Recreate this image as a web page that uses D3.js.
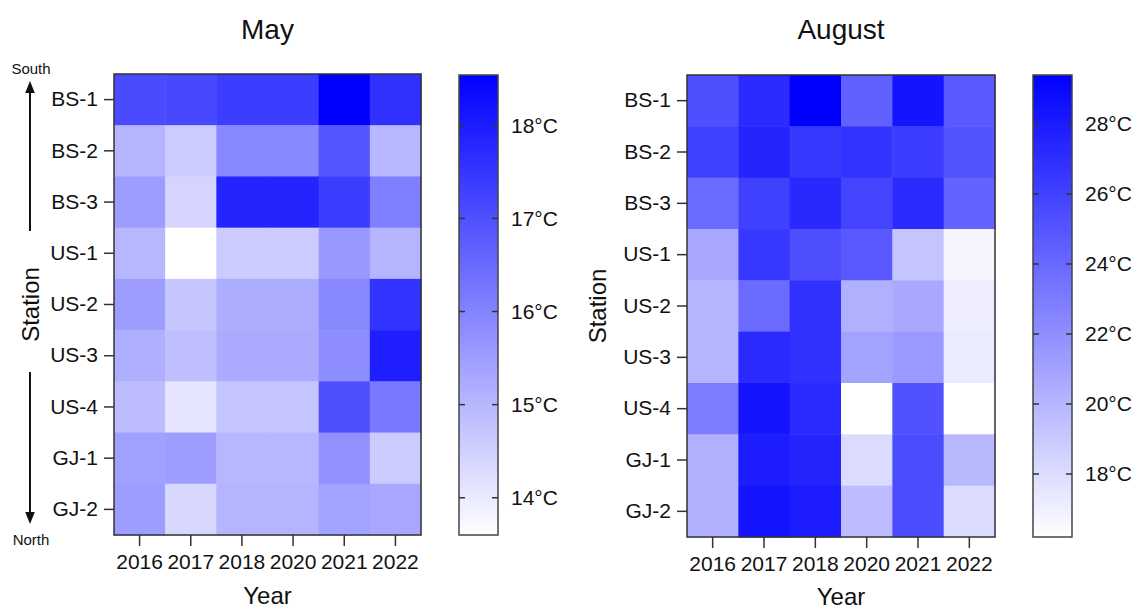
<!DOCTYPE html>
<html>
<head>
<meta charset="utf-8">
<script src="https://cdn.jsdelivr.net/npm/d3@7"></script>
<style>
  body { margin: 0; background: #fff; }
  text { font-family: "Liberation Sans", Arial, sans-serif; fill: #111; }
</style>
</head>
<body>
<div id="chart"></div>
<script>
var stations = ["BS-1", "BS-2", "BS-3", "US-1", "US-2", "US-3", "US-4", "GJ-1", "GJ-2"];
var years = ["2016", "2017", "2018", "2020", "2021", "2022"];

// mean temperature per station (rows) and year (cols)
var mayValues = [
    [17.1, 17.15, 17.35, 17.35, 18.54, 17.6],
    [15.05, 14.6, 15.9, 15.9, 16.9, 15.0],
    [15.5, 14.43, 17.85, 17.85, 17.35, 16.1],
    [15.0, 13.6, 14.6, 14.6, 15.6, 15.05],
    [15.5, 14.7, 15.18, 15.18, 15.9, 17.55],
    [15.15, 14.85, 15.25, 15.25, 15.8, 17.95],
    [14.9, 14.1, 14.75, 14.75, 17.0, 16.2],
    [15.45, 15.5, 15.0, 15.0, 15.75, 14.6],
    [15.5, 14.35, 15.05, 15.05, 15.4, 15.3]
];
var augustValues = [
    [25.3, 27.15, 29.4, 24.4, 28.35, 24.8],
    [26.1, 27.55, 26.5, 26.75, 26.25, 25.05],
    [23.85, 26.1, 27.3, 25.85, 27.15, 24.25],
    [20.7, 26.5, 25.3, 24.8, 19.25, 16.75],
    [20.05, 23.85, 26.9, 20.3, 20.7, 17.1],
    [20.05, 27.15, 26.9, 21.0, 21.5, 17.25],
    [22.95, 28.35, 27.15, 16.2, 25.2, 16.2],
    [20.3, 27.95, 27.55, 18.05, 25.45, 19.9],
    [20.3, 28.35, 27.95, 19.65, 25.45, 18.05]
];
var mayRange = [13.6, 18.54];
var mayTicks = [14, 15, 16, 17, 18];
var augustRange = [16.2, 29.4];
var augustTicks = [18, 20, 22, 24, 26, 28];

var width = 1138, height = 610;
var svg = d3.select("#chart").append("svg")
    .attr("width", width)
    .attr("height", height);

function drawPanel(opts) {
    var g = svg.append("g");
    var x = d3.scaleBand().domain(years).range([opts.left, opts.right]);
    var y = d3.scaleBand().domain(stations).range([opts.top, opts.bottom]);
    var color = d3.scaleLinear().domain(opts.range).range(["#ffffff", "#0000ff"]).clamp(true);

    var cells = [];
    opts.values.forEach(function (row, i) {
        row.forEach(function (v, j) {
            cells.push({station: stations[i], year: years[j], value: v});
        });
    });

    g.selectAll("rect.cell")
        .data(cells).enter().append("rect")
        .attr("class", "cell")
        .attr("x", function (d) { return x(d.year); })
        .attr("y", function (d) { return y(d.station); })
        .attr("width", x.bandwidth() + 0.5)
        .attr("height", y.bandwidth() + 0.5)
        .attr("fill", function (d) { return color(d.value); });

    g.append("rect")
        .attr("x", opts.left).attr("y", opts.top)
        .attr("width", opts.right - opts.left).attr("height", opts.bottom - opts.top)
        .attr("fill", "none").attr("stroke", "#333").attr("stroke-width", 1.5);

    var yAxis = g.append("g")
        .attr("transform", "translate(" + opts.left + ",0)")
        .call(d3.axisLeft(y).tickSize(10).tickPadding(6));
    yAxis.select(".domain").remove();
    yAxis.selectAll("line").attr("stroke", "#333").attr("stroke-width", 1.5);
    yAxis.selectAll("text").style("font-size", "21px").attr("fill", "#111")
        .style("font-family", "Liberation Sans, Arial, sans-serif");

    var xAxis = g.append("g")
        .attr("transform", "translate(0," + opts.bottom + ")")
        .call(d3.axisBottom(x).tickSize(11).tickPadding(8));
    xAxis.select(".domain").remove();
    xAxis.selectAll("line").attr("stroke", "#333").attr("stroke-width", 1.5);
    xAxis.selectAll("text").style("font-size", "21px").attr("fill", "#111")
        .style("font-family", "Liberation Sans, Arial, sans-serif");

    var cx = (opts.left + opts.right) / 2;
    g.append("text").attr("x", cx).attr("y", 39)
        .attr("text-anchor", "middle").style("font-size", "28px").text(opts.title);
    g.append("text").attr("x", cx).attr("y", opts.yearY)
        .attr("text-anchor", "middle").style("font-size", "24px").text("Year");
    g.append("text")
        .attr("transform", "translate(" + opts.stationX + "," + ((opts.top + opts.bottom) / 2) + ") rotate(-90)")
        .attr("text-anchor", "middle").style("font-size", "24px").text("Station");

    // colour bar
    var gradId = "grad-" + opts.title;
    var grad = svg.append("defs").append("linearGradient")
        .attr("id", gradId).attr("x1", 0).attr("y1", 1).attr("x2", 0).attr("y2", 0);
    grad.append("stop").attr("offset", 0).attr("stop-color", "#ffffff");
    grad.append("stop").attr("offset", 1).attr("stop-color", "#0000ff");

    var cb = opts.bar;
    var cbScale = d3.scaleLinear().domain(opts.range).range([cb.bottom, cb.top]);
    g.append("rect")
        .attr("x", cb.left).attr("y", cb.top)
        .attr("width", cb.width).attr("height", cb.bottom - cb.top)
        .attr("fill", "url(#" + gradId + ")")
        .attr("stroke", "#444").attr("stroke-width", 1.5);
    var tk = g.selectAll("g.cbtick").data(opts.ticks).enter().append("g")
        .attr("transform", function (d) { return "translate(0," + cbScale(d) + ")"; });
    tk.append("line").attr("x1", cb.left).attr("x2", cb.left + 6)
        .attr("stroke", "#333").attr("stroke-width", 1.5);
    tk.append("line").attr("x1", cb.left + cb.width - 6).attr("x2", cb.left + cb.width)
        .attr("stroke", "#333").attr("stroke-width", 1.5);
    tk.append("text").attr("x", cb.left + cb.width + 13).attr("dy", "0.35em")
        .style("font-size", "21px").text(function (d) { return d + "°C"; });
}

drawPanel({
    title: "May", values: mayValues, range: mayRange, ticks: mayTicks,
    left: 114, right: 421, top: 74, bottom: 535,
    yearY: 604, stationX: 39,
    bar: {left: 459, width: 39, top: 75, bottom: 535}
});
drawPanel({
    title: "August", values: augustValues, range: augustRange, ticks: augustTicks,
    left: 687, right: 995, top: 75, bottom: 537,
    yearY: 605, stationX: 606,
    bar: {left: 1033, width: 39, top: 75, bottom: 537}
});

// south / north arrows next to the May panel
var arrows = svg.append("g");
arrows.append("defs").append("marker")
    .attr("id", "arrowhead").attr("viewBox", "0 0 10 10")
    .attr("refX", 5).attr("refY", 5)
    .attr("markerWidth", 6).attr("markerHeight", 6)
    .attr("orient", "auto-start-reverse")
    .append("path").attr("d", "M0,1 L10,5 L0,9 Z").attr("fill", "#111");
arrows.append("line").attr("x1", 30).attr("x2", 30).attr("y1", 231).attr("y2", 87)
    .attr("stroke", "#111").attr("stroke-width", 2).attr("marker-end", "url(#arrowhead)");
arrows.append("line").attr("x1", 30).attr("x2", 30).attr("y1", 372).attr("y2", 518)
    .attr("stroke", "#111").attr("stroke-width", 2).attr("marker-end", "url(#arrowhead)");
arrows.append("text").attr("x", 31).attr("y", 74).attr("text-anchor", "middle")
    .style("font-size", "15px").text("South");
arrows.append("text").attr("x", 31).attr("y", 545).attr("text-anchor", "middle")
    .style("font-size", "15px").text("North");
</script>
</body>
</html>
